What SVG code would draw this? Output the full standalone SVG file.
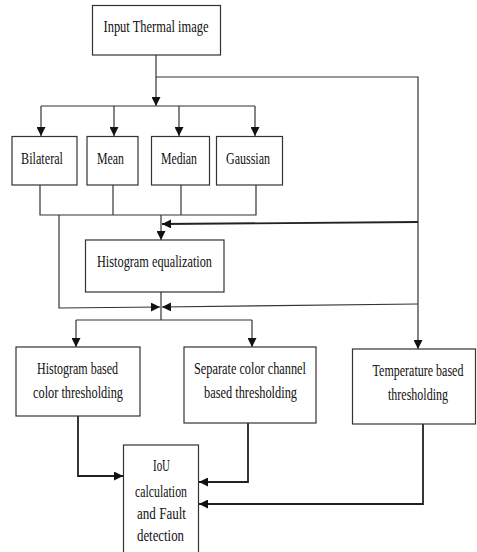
<svg xmlns="http://www.w3.org/2000/svg" width="477" height="552" viewBox="0 0 477 552">
<defs>
<style>
.box{fill:#fff;stroke:#333;stroke-width:1.2}
.ln{fill:none;stroke:#333;stroke-width:1.2}
.tk{fill:none;stroke:#222;stroke-width:1.8}
text{font-family:"Liberation Serif","Times New Roman",serif;font-size:17px;fill:#111;text-anchor:middle}
</style>
<marker id="ah" viewBox="0 0 10 10" refX="10" refY="5" markerWidth="9" markerHeight="9" markerUnits="userSpaceOnUse" orient="auto">
<path d="M0,0 L10,5 L0,10 Z" fill="#111"/>
</marker>
</defs>
<rect width="477" height="552" fill="#fff"/>
<g id="connectors">
<path class="ln" d="M156,55 V106" marker-end="url(#ah)"/>
<path class="ln" d="M156,77 H418 V349" marker-end="url(#ah)"/>
<path class="ln" d="M41,106 H255"/>
<path class="ln" d="M41,106 V136" marker-end="url(#ah)"/>
<path class="ln" d="M114,106 V136" marker-end="url(#ah)"/>
<path class="ln" d="M179,106 V136" marker-end="url(#ah)"/>
<path class="ln" d="M255,106 V136" marker-end="url(#ah)"/>
<path class="ln" d="M40,185 V215 H256 V185"/>
<path class="ln" d="M113,185 V215"/>
<path class="ln" d="M181,185 V215"/>
<path class="ln" d="M161,215 V240" marker-end="url(#ah)"/>
<path class="tk" d="M418,222 L162,224" marker-end="url(#ah)"/>
<path class="ln" d="M59,215 V308 L160,307" marker-end="url(#ah)"/>
<path class="ln" d="M418,304 L162,307" marker-end="url(#ah)"/>
<path class="ln" d="M161,292 V320"/>
<path class="ln" d="M76,320 H252"/>
<path class="ln" d="M76,320 V347" marker-end="url(#ah)"/>
<path class="ln" d="M252,320 V347" marker-end="url(#ah)"/>
<path class="tk" d="M78,416 V476 H123" marker-end="url(#ah)"/>
<path class="tk" d="M248,423 V482 H199" marker-end="url(#ah)"/>
<path class="tk" d="M423,424 V504 H199" marker-end="url(#ah)"/>
</g>
<g id="input">
<rect class="box" x="92.5" y="5.5" width="128" height="49.5"/>
<text x="156" y="32" textLength="105" lengthAdjust="spacingAndGlyphs">Input Thermal image</text>
</g>
<g id="bilateral">
<rect class="box" x="12" y="136.5" width="65" height="48.5"/>
<text x="42" y="164" textLength="42" lengthAdjust="spacingAndGlyphs">Bilateral</text>
</g>
<g id="mean">
<rect class="box" x="87" y="136.5" width="51" height="48.5"/>
<text x="110.5" y="164" textLength="27" lengthAdjust="spacingAndGlyphs">Mean</text>
</g>
<g id="median">
<rect class="box" x="151.5" y="136.5" width="58" height="48.5"/>
<text x="179" y="164" textLength="36" lengthAdjust="spacingAndGlyphs">Median</text>
</g>
<g id="gaussian">
<rect class="box" x="216.5" y="136.5" width="66" height="48.5"/>
<text x="248" y="164" textLength="44" lengthAdjust="spacingAndGlyphs">Gaussian</text>
</g>
<g id="histeq">
<rect class="box" x="85.5" y="240" width="138.5" height="52"/>
<text x="154.5" y="267" textLength="115" lengthAdjust="spacingAndGlyphs">Histogram equalization</text>
</g>
<g id="histthresh">
<rect class="box" x="16" y="347" width="124" height="69"/>
<text x="77.5" y="374" textLength="81" lengthAdjust="spacingAndGlyphs">Histogram based</text>
<text x="78" y="398" textLength="90" lengthAdjust="spacingAndGlyphs">color thresholding</text>
</g>
<g id="channelthresh">
<rect class="box" x="184" y="347" width="132" height="76"/>
<text x="250" y="374" textLength="112" lengthAdjust="spacingAndGlyphs">Separate color channel</text>
<text x="250.5" y="398" textLength="93" lengthAdjust="spacingAndGlyphs">based thresholding</text>
</g>
<g id="tempthresh">
<rect class="box" x="352.5" y="349" width="123" height="75"/>
<text transform="translate(418,376) scale(0.707,1)">Temperature based</text>
<text transform="translate(418,400) scale(0.707,1)">thresholding</text>
</g>
<g id="iou">
<rect class="box" x="123.5" y="445" width="75" height="112"/>
<text x="161.5" y="471" textLength="17" lengthAdjust="spacingAndGlyphs">IoU</text>
<text x="161" y="497" textLength="52" lengthAdjust="spacingAndGlyphs">calculation</text>
<text x="161.5" y="519" textLength="49" lengthAdjust="spacingAndGlyphs">and Fault</text>
<text x="160.5" y="541" textLength="47" lengthAdjust="spacingAndGlyphs">detection</text>
</g>
</svg>
